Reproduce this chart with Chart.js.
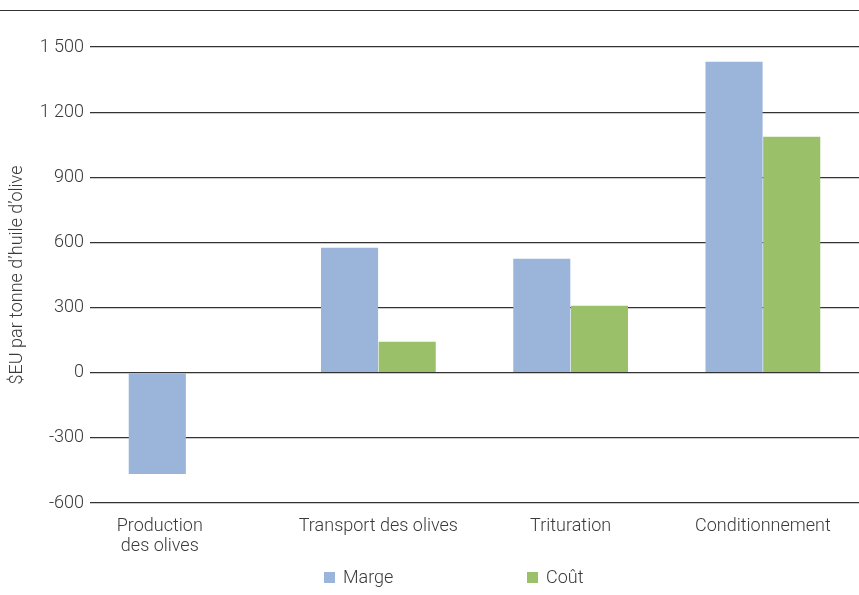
<!DOCTYPE html>
<html>
<head>
<meta charset="utf-8">
<script src="https://cdn.jsdelivr.net/npm/chart.js@4"></script>
<style>
    html, body { margin: 0; padding: 0; background: #fff; }
    #wrap { width: 859px; height: 595px; position: relative; }
</style>
</head>
<body>
<div id="wrap"><canvas id="chart"></canvas></div>
<script>
const CATEGORIES = [['Production', 'des olives'], 'Transport des olives', 'Trituration', 'Conditionnement'];
const MARGE = [-466, 575, 525, 1432];
const COUT = [null, 143, 308, 1087];
const SERIES_NAMES = ['Marge', 'Coût'];
const Y_TICKS = [-600, -300, 0, 300, 600, 900, 1200, 1500];

const COLORS = {
    marge: '#9bb4da',
    cout:  '#9ac16a',
    text:  '#3a3a3a',
    grid:  '#333333',
};

const FONT = 'Roboto, "Liberation Sans", sans-serif';

const formatThousands = v => String(v).replace(/\B(?=(\d{3})+(?!\d))/g, ' ');

// the source sets the wrapped first label off to the left of its category
const xTickLabel = function (value, index) {
    const label = this.getLabelForValue(value);
    if (index !== 0 || !Array.isArray(label)) return label;
    return label.map(line => line + '\u00a0'.repeat(12));
};

// top rule + hand-placed legend (items spread wide, as in the source)
const decorations = {
    id: 'decorations',
    beforeDraw(chart) {
        const { ctx, width } = chart;
        ctx.save();
        ctx.strokeStyle = COLORS.grid;
        ctx.lineWidth = 1.2;
        ctx.beginPath();
        ctx.moveTo(0, 10.5);
        ctx.lineTo(width, 10.5);
        ctx.stroke();
        ctx.restore();
    },
    afterDraw(chart) {
        const { ctx } = chart;
        const y = 577;
        const startX = 324;
        const step = 203;
        ctx.save();
        ctx.font = `300 18px ${FONT}`;
        ctx.textBaseline = 'middle';
        chart.data.datasets.forEach((ds, i) => {
            const x = startX + i * step;
            ctx.fillStyle = ds.backgroundColor;
            ctx.fillRect(x, y - 5, 11, 11);
            ctx.fillStyle = COLORS.text;
            ctx.fillText(ds.label, x + 19, y + 1);
        });
        ctx.restore();
    },
};

new Chart(document.getElementById('chart').getContext('2d'), {
    type: 'bar',
    data: {
        labels: CATEGORIES,
        datasets: [
            { label: SERIES_NAMES[0], data: MARGE, backgroundColor: COLORS.marge },
            { label: SERIES_NAMES[1], data: COUT,  backgroundColor: COLORS.cout },
        ],
    },
    options: {
        responsive: true,
        maintainAspectRatio: false,
        animation: false,
        categoryPercentage: 0.6,
        barPercentage: 0.99,
        layout: { padding: { top: 47, right: 0, bottom: 0, left: 0 } },
        scales: {
            x: {
                grid: { display: false, drawTicks: false },
                border: { display: false },
                ticks: {
                    color: COLORS.text,
                    font: { family: FONT, size: 18, weight: 300, lineHeight: 1.12 },
                    padding: 13,
                    maxRotation: 0,
                    callback: xTickLabel,
                },
                afterFit: scale => { scale.height = 92; },
            },
            y: {
                min: -600,
                max: 1500,
                afterBuildTicks: scale => { scale.ticks = Y_TICKS.map(value => ({ value })); },
                grid: { color: COLORS.grid, lineWidth: 1.2, drawTicks: false },
                border: { display: false },
                ticks: {
                    color: COLORS.text,
                    font: { family: FONT, size: 18, weight: 300 },
                    padding: 6,
                    callback: v => formatThousands(v),
                },
                title: {
                    display: true,
                    text: '$EU par tonne d’huile d’olive',
                    color: COLORS.text,
                    font: { family: FONT, size: 18, weight: 300 },
                    padding: { top: 7, bottom: 0 },
                },
                afterFit: scale => { scale.width = 90; },
            },
        },
        plugins: {
            legend: { display: false },
            tooltip: { enabled: false },
        },
    },
    plugins: [decorations],
});
</script>
</body>
</html>
